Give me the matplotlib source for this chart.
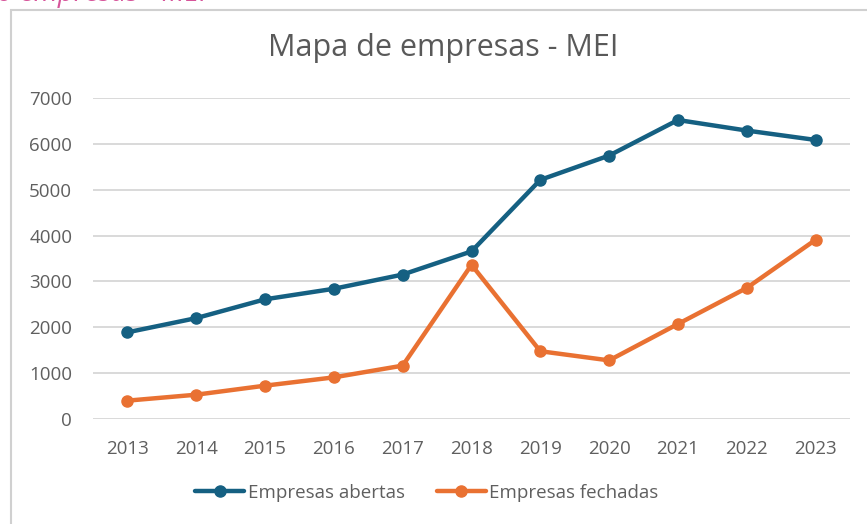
import matplotlib
matplotlib.use("Agg")
import matplotlib.pyplot as plt
from matplotlib.patches import Rectangle

years = ["2013", "2014", "2015", "2016", "2017", "2018", "2019", "2020", "2021", "2022", "2023"]
abertas = [1890, 2200, 2610, 2840, 3150, 3655, 5215, 5745, 6520, 6290, 6085]
fechadas = [400, 530, 727, 908, 1164, 3362, 1478, 1278, 2072, 2858, 3908]
series_names = ["Empresas abertas", "Empresas fechadas"]
title = "Mapa de empresas - MEI"
yticks = [0, 1000, 2000, 3000, 4000, 5000, 6000, 7000]

plt.rcParams['font.family'] = ['Open Sans', 'DejaVu Sans']
W, H = 867, 524
fig = plt.figure(figsize=(W / 100, H / 100), dpi=100)
ax = fig.add_axes([93 / W, 1 - 419 / H, (850 - 93) / W, (419 - 98) / H])

c1 = "#156082"
c2 = "#E97132"
x = list(range(len(years)))
ax.plot(x, abertas, color=c1, lw=3.2, marker="o", ms=8, label=series_names[0], solid_capstyle="round", zorder=3)
ax.plot(x, fechadas, color=c2, lw=3.2, marker="o", ms=8, label=series_names[1], solid_capstyle="round", zorder=3)

ax.set_xlim(-0.5, len(years) - 0.5)
ax.set_ylim(0, 7000)
ax.set_yticks(yticks)
ax.set_xticks(x)
ax.set_xticklabels(years)
ax.grid(axis="y", color="#d9d9d9", lw=1.4)
ax.set_axisbelow(True)
for s in ax.spines.values():
    s.set_visible(False)
ax.tick_params(length=0, labelsize=13.5, colors="#5f5f5f")
ax.tick_params(axis="y", pad=15)
ax.tick_params(axis="x", pad=15)

fig.text(443 / W, 1 - 48 / H, title, ha="center", va="center", fontsize=22, color="#595959")

leg = fig.legend(loc="center", bbox_to_anchor=(427 / W, 1 - 493 / H), ncol=2, frameon=False,
                 fontsize=13.5, labelcolor="#5f5f5f", handlelength=2.6, handletextpad=0.2,
                 columnspacing=1.7)

# chart frame (cut off at right/bottom)
fig.patches.append(Rectangle((10.5 / W, -0.05), 2, 1 - 9.5 / H + 0.05, transform=fig.transFigure,
                             fill=False, edgecolor="#d0d0d0", lw=1.5))
# clipped text above frame
fig.text(-3 / W, 1 - 1.5 / H, "o empresas - MEI", ha="left", va="baseline", fontsize=20,
         style="italic", color="#d6549a")

fig.savefig("out.png", dpi=100)
